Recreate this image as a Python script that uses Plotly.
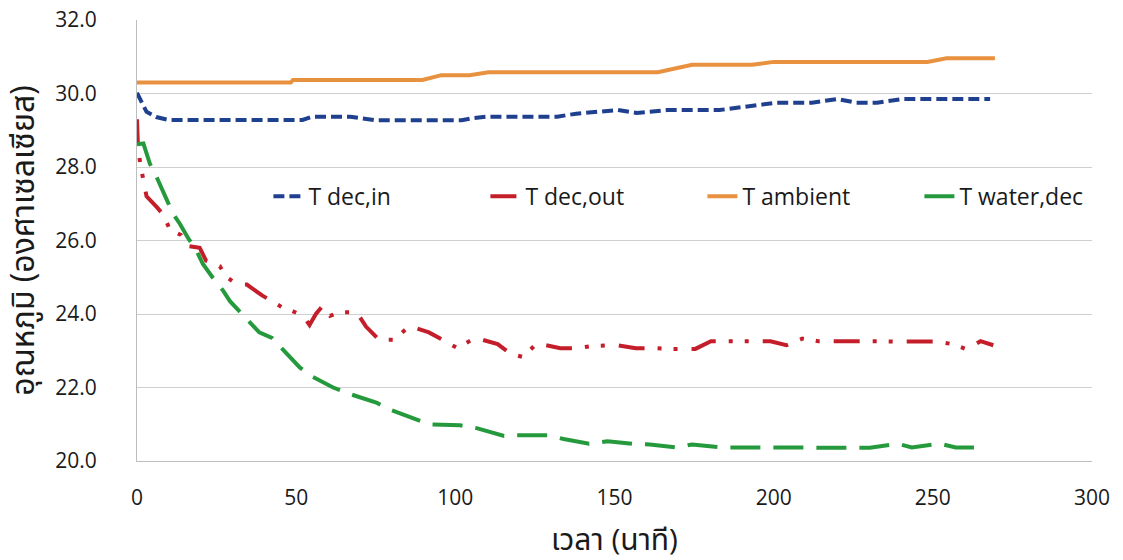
import plotly.graph_objects as go

# ---- data ----
t_ambient = [0, 48.3, 49, 89.7, 95.6, 104.5, 110.4, 163.6, 174.4, 193.2, 200, 248.3, 254.3, 269.5]
v_ambient = [30.3, 30.3, 30.37, 30.37, 30.5, 30.5, 30.58, 30.58, 30.78, 30.78, 30.86, 30.86, 30.96, 30.96]

t_dec_in = [0, 1.5, 3, 6, 10, 52, 55, 67, 71, 75, 102, 105.5, 110, 132, 138, 143, 151, 157,
            166.5, 183, 192, 201, 212, 220, 226, 232.5, 240.5, 268]
v_dec_in = [30.02, 29.75, 29.5, 29.36, 29.28, 29.28, 29.37, 29.37, 29.33, 29.27, 29.27, 29.33, 29.37,
            29.37, 29.45, 29.48, 29.55, 29.47, 29.55, 29.55, 29.65, 29.75, 29.75, 29.85, 29.75, 29.75,
            29.85, 29.85]

t_dec_out = [0, 0.3, 1, 2, 3, 6.3, 8.3, 10.3, 13.8, 16, 19.7, 21.7, 26, 28.2, 31.5, 34.5, 39.4, 42.4,
             45.8, 48.3, 52.2, 54.2, 56.2, 58.1, 60.6, 64, 69, 72, 76, 80.5, 85.7, 91.7, 96.6, 100.5,
             106.4, 113.3, 117.3, 121.2, 125.6, 133, 138, 143, 151, 156.7, 162.6, 167.5, 175.4, 180.3,
             190.2, 199, 204, 209, 214, 221.7, 227.6, 246.4, 251.3, 256.2, 260.6, 265, 269]
v_dec_out = [29.3, 28.55, 28.1, 27.65, 27.2, 26.9, 26.7, 26.3, 26.15, 25.85, 25.8, 25.45, 25.3, 25.0,
             24.8, 24.8, 24.5, 24.35, 24.17, 24.1, 23.95, 23.7, 24.0, 24.2, 23.95, 24.05, 24.05, 23.65,
             23.3, 23.3, 23.67, 23.5, 23.27, 23.08, 23.35, 23.18, 22.92, 22.83, 23.2, 23.07, 23.07,
             23.13, 23.15, 23.07, 23.07, 23.05, 23.05, 23.26, 23.26, 23.26, 23.15, 23.33, 23.26, 23.26,
             23.25, 23.25, 23.25, 23.18, 23.04, 23.26, 23.15]

t_water = [0, 2, 4, 6.3, 9.4, 11.3, 13.5, 15.8, 18.7, 20.7, 23.7, 27.1, 29.2, 32.5, 34.9, 38.4, 42.4,
           45.3, 48.1, 51.2, 55, 58.1, 61.6, 67, 71, 75.4, 79.4, 86.7, 91.7, 101.5, 106.4, 115.3, 119.2,
           129, 134, 142, 147.8, 155.7, 161.1, 169.5, 174.4, 183.3, 198, 211, 224.7, 230.2, 239, 243.4,
           252.3, 257.2, 266]
v_water = [28.62, 28.64, 28.1, 27.7, 27.1, 26.73, 26.45, 26.1, 25.72, 25.36, 25.0, 24.63, 24.35, 24.04,
           23.8, 23.5, 23.35, 23.08, 22.85, 22.54, 22.3, 22.17, 22.0, 21.82, 21.7, 21.58, 21.4, 21.16,
           21.0, 20.97, 20.9, 20.68, 20.7, 20.7, 20.6, 20.47, 20.54, 20.47, 20.45, 20.37, 20.45, 20.37,
           20.37, 20.37, 20.37, 20.36, 20.47, 20.37, 20.47, 20.37, 20.37]

names = ["T dec,in", "T dec,out", "T ambient", "T water,dec"]
x_ticks = [0, 50, 100, 150, 200, 250, 300]
y_ticks = [20, 22, 24, 26, 28, 30, 32]
x_title = "เวลา (นาที)"
y_title = "อุณหภูมิ (องศาเซลเซียส)"

FONT = "Open Sans, Noto Sans Thai, Tahoma, sans-serif"

fig = go.Figure()
fig.add_trace(go.Scatter(x=t_dec_in, y=v_dec_in, name=names[0], mode="lines",
                         line=dict(color="#1F3F8F", width=4, dash="11px,5px")))
fig.add_trace(go.Scatter(x=t_dec_out, y=v_dec_out, name=names[1], mode="lines",
                         line=dict(color="#C41E2A", width=4, dash="26px,13px,4px,12px,4px,14px")))
fig.add_trace(go.Scatter(x=t_ambient, y=v_ambient, name=names[2], mode="lines",
                         line=dict(color="#E8913F", width=4)))
fig.add_trace(go.Scatter(x=t_water, y=v_water, name=names[3], mode="lines",
                         line=dict(color="#259A3C", width=4, dash="30px,13px")))

fig.update_layout(
    width=1123, height=560,
    margin=dict(l=137, r=31, t=20, b=99, autoexpand=False),
    paper_bgcolor="white", plot_bgcolor="white",
    font=dict(family=FONT, size=21, color="#1a1a1a"),
    showlegend=True,
    legend=dict(orientation="h", x=0.1376, y=0.6, xanchor="left", yanchor="middle",
                bgcolor="rgba(0,0,0,0)", font=dict(size=23, color="#1a1a1a"),
                entrywidth=172, entrywidthmode="pixels", itemwidth=30),
)
fig.update_xaxes(range=[0, 300], tickvals=x_ticks, ticktext=[str(v) for v in x_ticks],
                 showgrid=False, zeroline=False, showline=True, linecolor="#BDBDBD", linewidth=1,
                 ticks="", ticklabelstandoff=18, tickfont=dict(size=21),
                 ticklabeloverflow="allow",
                 title=dict(text=x_title, font=dict(size=30), standoff=18))
fig.update_yaxes(range=[20, 32], tickvals=y_ticks, ticktext=[f"{v:.1f}" for v in y_ticks],
                 showgrid=True, gridcolor="#CFCFCF", gridwidth=1, zeroline=False,
                 showline=True, linecolor="#BDBDBD", linewidth=1, mirror=False,
                 ticks="", ticklabelstandoff=35, tickfont=dict(size=21),
                 ticklabeloverflow="allow",
                 title=dict(text=y_title, font=dict(size=32), standoff=30))

fig.write_html("out.html", config={"displayModeBar": False},
               post_script="document.body.style.margin='0px';document.body.style.padding='0px';")
